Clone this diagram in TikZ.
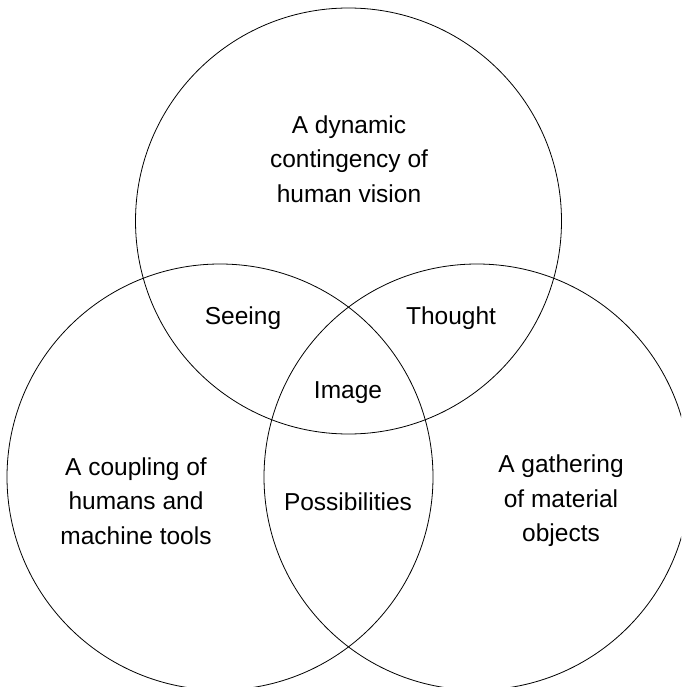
\documentclass[tikz,border=0pt]{standalone}
\usepackage{fontspec}
\setmainfont{Liberation Sans}
\usetikzlibrary{positioning}

\begin{document}
\begin{tikzpicture}[
  x=1pt, y=-1pt,
  ring/.style={draw, circle, line width=0.8pt, minimum size=426pt, inner sep=0pt},
  lbl/.style={align=center, font=\fontsize{24.5}{34.5}\selectfont}
]
\clip (0,0) rectangle (681,687);
\useasboundingbox (0,0) rectangle (681,687);

% the three sets
\node [ring] (vision) at (348.5,221) {};
\node [ring] (coupling) at (220,477) {};
\node [ring] (gathering) at (477,477) {};

% labels of the sets
\node [lbl] (visiontxt) at (349,159) {A dynamic\\contingency of\\human vision};
\node [lbl] (couplingtxt) at (136,501) {A coupling of\\humans and\\machine tools};
\node [lbl] (gatheringtxt) at (561,501) {A gathering\\of material\\objects};

% the overlaps
\node [lbl] (seeing) at (243,318) {Seeing};
\node [lbl] (thought) at (451,318) {Thought};
\node [lbl] (image) at (348,393) {Image};
\node [lbl] (possib) at (348,502) {Possibilities};
\end{tikzpicture}
\end{document}
